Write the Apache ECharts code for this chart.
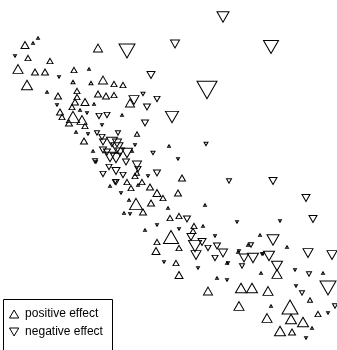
<!DOCTYPE html>
<html><head><meta charset="utf-8">
<script src="https://cdn.jsdelivr.net/npm/echarts@6/dist/echarts.min.js"></script>
<style>html,body{margin:0;padding:0;background:#fff}#c{width:337px;height:350px}</style>
</head><body><div id="c"></div>
<script>
// Positive effect points: x, y (picture coordinates), marker width
const posX = [38,25,98,28,50,18,35,45,74,27,73,91,103,114,123,58,77,98,106,114,77,75,85,130,60,72,73,82,62,69,85,137,84,137,135,127,142,131,150,157,163,178,182,136,151,143,170,179,194,193,171,157,156,179,176,179,208,241,252,268,277,239,290,310,318,267,291,303,280,292,
  33,89,47,94,80,122,76,93,132,110,138,129,124,168,205,145,203,169,248,227,217,260,287,238,261,323,271,312];
const posY = [38,45,48,58,61,69,72,72,70,85,82,83,80,84,85,96,91,94,96,95,97,102,102,103,112,107,117,120,117,123,126,134,141,173,176,182,182,188,187,193,198,193,178,204,203,212,218,216,226,231,237,242,251,248,263,275,291,288,288,291,274,306,307,300,314,318,319,322,331,332,
  43,69,92,104,110,115,132,151,151,186,185,200,213,208,205,230,226,146,245,263,278,235,247,252,273,273,306,328];
const posS = [3,8,9,6,6,10,7,7,6,11,4,4,9,6,6,7,6,7,7,6,6,7,8,9,7,6,13,10,6,7,6,5,7,5,6,6,6,6,7,8,6,7,7,13,7,7,6,6,6,6,15,6,8,6,6,8,9,11,11,10,10,10,16,5,6,10,11,11,11,7,
  3,3,3,3,3,3,3,3,3,3,3,3,3,3,3,3,3,3,3,3,3,3,3,3,3,3,3,3];
// Negative effect points
const negX = [223,127,175,271,151,207,172,143,157,134,147,145,99,107,97,102,118,103,103,112,117,117,120,107,110,116,127,126,95,109,116,137,138,103,123,116,157,153,206,229,273,306,313,187,191,202,195,196,208,217,223,215,244,242,251,253,269,273,277,308,332,309,328,302,335,115,
  15,59,87,57,102,88,135,96,121,148,130,178,157,179,237,215,239,228,164,198,227,262,263,295,296,328,306,280];
const negY = [17,51,44,47,75,90,117,94,99,100,107,123,116,115,133,137,133,142,150,142,143,148,152,152,157,158,153,162,161,167,171,165,169,174,175,182,173,153,144,181,181,198,219,219,237,242,246,255,248,246,253,258,258,266,245,258,256,240,266,253,255,274,288,293,306,182,
  56,77,113,105,125,134,145,162,193,176,214,159,225,229,222,236,251,263,262,268,280,254,254,270,286,313,338,221];
const negS = [12,16,9,15,8,20,13,4,6,10,7,7,6,6,5,6,5,7,7,11,9,12,9,7,11,11,11,7,5,6,8,9,6,6,6,6,7,4,4,5,8,8,8,7,8,8,13,10,6,7,9,6,9,5,5,11,11,12,11,10,10,5,16,5,5,5,
  3,3,3,3,3,3,3,3,3,3,3,3,3,3,3,3,3,3,3,3,3,3,3,3,3,3,3,3];
const legendNames = ['positive effect','negative effect'];

const UP = 'path://M1,0L2,1.732L0,1.732Z';
const DOWN = 'path://M0,0L2,0L1,1.732Z';
function pts(xs, ys, ss){ return xs.map((x,i)=>[x, ys[i], ss[i]]); }
const chart = echarts.init(document.getElementById('c'), null, {renderer:'canvas'});
const style = {color:'rgba(0,0,0,0)', borderColor:'#000', borderWidth:1, opacity:1};
chart.setOption({
  animation:false,
  backgroundColor:'#fff',
  grid:{left:0,right:0,top:0,bottom:0},
  xAxis:{type:'value',min:0,max:337,show:false},
  yAxis:{type:'value',min:0,max:350,inverse:true,show:false},
  graphic:[{type:'rect', shape:{x:3.5,y:299.5,width:109,height:70},
    style:{fill:'#fff', stroke:'#000', lineWidth:1}, z:5, silent:true}],
  legend:{
    left:9, top:307, orient:'vertical', z:10,
    padding:0, itemGap:4, itemWidth:12, itemHeight:8,
    textStyle:{fontFamily:'Liberation Sans, Arial, sans-serif', fontSize:12, color:'#000', lineHeight:14},
    data:[{name:legendNames[0], icon:UP, itemStyle:style},{name:legendNames[1], icon:DOWN, itemStyle:style}],
    selectedMode:false
  },
  series:[
    {name:legendNames[0], type:'scatter', symbol:UP, data:pts(posX,posY,posS),
     symbolSize:v=>[v[2], v[2]*0.87], itemStyle:style, silent:true},
    {name:legendNames[1], type:'scatter', symbol:DOWN, data:pts(negX,negY,negS),
     symbolSize:v=>[v[2], v[2]*0.87], itemStyle:style, silent:true}
  ]
});
</script></body></html>
